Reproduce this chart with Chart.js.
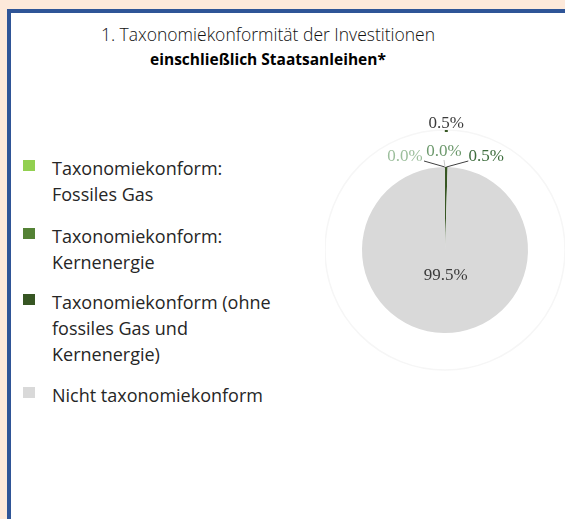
<!DOCTYPE html>
<html>
<head>
<meta charset="utf-8">
<script src="https://cdn.jsdelivr.net/npm/chart.js@4"></script>
<style>
  body { margin: 0; background: #fde9da; width: 565px; height: 519px; overflow: hidden; position: relative; font-family: "Open Sans", sans-serif; }
  #panel { position: absolute; left: 7px; top: 9px; width: 620px; height: 560px; background: #fff;
    border-left: 4px solid #2f5597; border-top: 4px solid #2f5597; }
  #title { position: absolute; left: 0; top: 21px; width: 536px; text-align: center; color: #111; }
  #title .l1 { font-size: 17.5px; font-weight: 300; line-height: 26px; }
  #title .l2 { font-size: 15.5px; font-weight: 700; line-height: 24px; color: #000; }
  #legend { position: absolute; left: 0; top: 0; }
  .item { position: absolute; left: 52px; width: 232px; font-size: 18px; line-height: 26px; color: #262626; }
  .box { position: absolute; left: -29px; top: 5px; width: 12px; height: 11px; }
  #wrap { position: absolute; left: 325px; top: 100px; width: 240px; height: 300px; }
</style>
</head>
<body>
<div id="panel"></div>
<div id="title">
  <div class="l1">1. Taxonomiekonformität der Investitionen</div>
  <div class="l2">einschließlich Staatsanleihen*</div>
</div>
<div id="legend"></div>
<div id="wrap"><canvas id="myChart"></canvas></div>
<script>
// Categories and values
const categories = [
  "Taxonomiekonform: Fossiles Gas",
  "Taxonomiekonform: Kernenergie",
  "Taxonomiekonform (ohne fossiles Gas und Kernenergie)",
  "Nicht taxonomiekonform",
];
const shares = [0.0, 0.0, 0.5, 99.5];
const sliceColors = ["#92d050", "#548235", "#375623", "#d9d9d9"];
const labelColors = ["#9dbf9d", "#6e9a6e", "#3f6e3f", "#3b3b3b"];

// Legend (HTML, built from the arrays)
const legendTops = [155, 223, 289, 382];
const legendEl = document.getElementById("legend");
categories.forEach((name, i) => {
  const item = document.createElement("div");
  item.className = "item";
  item.style.top = legendTops[i] + "px";
  item.textContent = name;
  const box = document.createElement("span");
  box.className = "box";
  box.style.background = sliceColors[i];
  item.appendChild(box);
  legendEl.appendChild(item);
});

const fmt = (v) => v.toFixed(1) + "%";

// Draws the faint outer ring and the data labels with leader lines
const labelPlugin = {
  id: "pieLabels",
  beforeDatasetsDraw(chart) {
    const arc = chart.getDatasetMeta(0).data[0];
    const ctx = chart.ctx;
    ctx.save();
    ctx.strokeStyle = "#f6f6f6";
    ctx.lineWidth = 1.5;
    ctx.beginPath();
    ctx.arc(arc.x, arc.y, arc.outerRadius + 37, 0, Math.PI * 2);
    ctx.stroke();
    ctx.restore();
  },
  afterDatasetsDraw(chart) {
    const ctx = chart.ctx;
    const arcs = chart.getDatasetMeta(0).data;
    ctx.save();
    ctx.font = "17px 'Liberation Serif', serif";
    ctx.textAlign = "center";
    ctx.textBaseline = "middle";

    // big slice label inside
    const big = arcs[3];
    const mid = (big.startAngle + big.endAngle) / 2;
    ctx.fillStyle = labelColors[3];
    ctx.fillText(fmt(shares[3]), big.x + Math.cos(mid) * big.outerRadius * 0.31 + 1,
      big.y + Math.sin(mid) * big.outerRadius * 0.31);

    // small slices: labels outside with leader lines
    const offsets = [
      { dx: -40, dy: -10, lx: -21, ly: -6, line: "#404040" },
      { dx: -1, dy: -15, lx: -1, ly: -7, line: "#c8c8c8" },
      { dx: 40, dy: -10, lx: 22, ly: -6, line: "#404040" },
    ];
    for (let i = 0; i < 3; i++) {
      const a = arcs[i];
      const m = (a.startAngle + a.endAngle) / 2;
      const ax = a.x + Math.cos(m) * a.outerRadius;
      const ay = a.y + Math.sin(m) * a.outerRadius;
      const o = offsets[i];
      ctx.strokeStyle = o.line;
      ctx.lineWidth = 1;
      ctx.beginPath();
      ctx.moveTo(ax, ay);
      ctx.lineTo(ax + o.lx, ay + o.ly);
      ctx.stroke();
      ctx.fillStyle = labelColors[i];
      ctx.fillText(fmt(shares[i]), ax + o.dx, ay + o.dy);
    }

    // extra label above the ring
    const top = arcs[2];
    const tm = (top.startAngle + top.endAngle) / 2;
    const tx = top.x + Math.cos(tm) * top.outerRadius;
    const ty = top.y + Math.sin(tm) * top.outerRadius;
    ctx.fillStyle = labelColors[3];
    ctx.fillText(fmt(shares[2]), tx, ty - 43);
    ctx.fillStyle = sliceColors[2];
    ctx.fillRect(tx - 1.5, ty - 37, 3, 2);
    ctx.restore();
  },
};

const ctx = document.getElementById("myChart");
new Chart(ctx, {
  type: "pie",
  data: {
    labels: categories,
    datasets: [
      {
        data: shares,
        backgroundColor: sliceColors,
        borderWidth: 0,
      },
    ],
  },
  options: {
    responsive: true,
    maintainAspectRatio: false,
    animation: false,
    layout: { padding: { top: 67, bottom: 67, left: 37, right: 37 } },
    plugins: {
      legend: { display: false },
      tooltip: { enabled: false },
    },
  },
  plugins: [labelPlugin],
});
</script>
</body>
</html>
